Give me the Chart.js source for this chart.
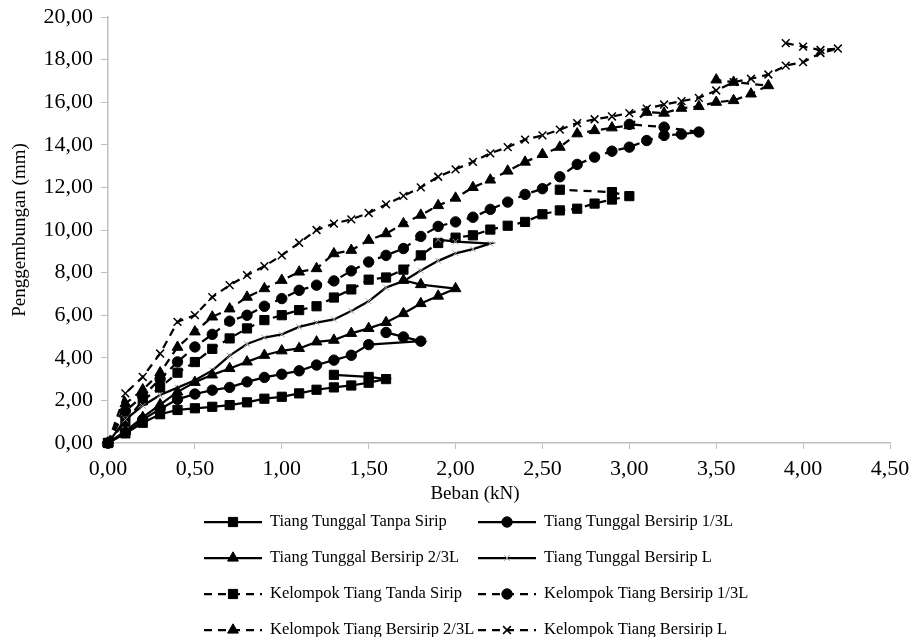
<!DOCTYPE html>
<html>
<head>
<meta charset="utf-8">
<script src="https://cdn.jsdelivr.net/npm/chart.js@4.4.1/dist/chart.umd.min.js"></script>
<style>
    html, body { margin: 0; padding: 0; background: #fff; }
    #wrap { width: 912px; height: 637px; position: relative; }
</style>
</head>
<body>
<div id="wrap"><canvas id="chart"></canvas></div>
<script>
(function () {
    var SERIES_NAMES = [
        "Tiang Tunggal Tanpa Sirip",
        "Tiang Tunggal Bersirip 1/3L",
        "Tiang Tunggal Bersirip 2/3L",
        "Tiang Tunggal Bersirip L",
        "Kelompok Tiang Tanda Sirip",
        "Kelompok Tiang Bersirip 1/3L",
        "Kelompok Tiang Bersirip 2/3L",
        "Kelompok Tiang Bersirip L"
    ];

    // beban (kN) / penggembungan (mm)
    var LOAD_TT_TANPA = [0, 0.1, 0.2, 0.3, 0.4, 0.5, 0.6, 0.7, 0.8, 0.9, 1.0, 1.1, 1.2, 1.3, 1.4, 1.5, 1.6, 1.5, 1.3];
    var DEFL_TT_TANPA = [0, 0.45, 0.95, 1.35, 1.55, 1.63, 1.70, 1.78, 1.91, 2.08, 2.17, 2.33, 2.50, 2.61, 2.70, 2.83, 3.00, 3.10, 3.20];

    var LOAD_TT_13L = [0, 0.1, 0.2, 0.3, 0.4, 0.5, 0.6, 0.7, 0.8, 0.9, 1.0, 1.1, 1.2, 1.3, 1.4, 1.5, 1.8, 1.7, 1.6];
    var DEFL_TT_13L = [0, 0.5, 1.1, 1.6, 2.05, 2.3, 2.48, 2.61, 2.87, 3.08, 3.23, 3.39, 3.66, 3.89, 4.12, 4.62, 4.78, 4.98, 5.19];

    var LOAD_TT_23L = [0, 0.1, 0.2, 0.3, 0.4, 0.5, 0.6, 0.7, 0.8, 0.9, 1.0, 1.1, 1.2, 1.3, 1.4, 1.5, 1.6, 1.7, 1.8, 1.9, 2.0, 1.8, 1.7];
    var DEFL_TT_23L = [0, 0.55, 1.2, 1.8, 2.4, 2.85, 3.2, 3.5, 3.81, 4.12, 4.33, 4.44, 4.75, 4.83, 5.15, 5.38, 5.66, 6.08, 6.55, 6.9, 7.25, 7.44, 7.64];

    var LOAD_TT_L = [0, 0.1, 0.2, 0.3, 0.4, 0.5, 0.6, 0.7, 0.8, 0.9, 1.0, 1.1, 1.2, 1.3, 1.4, 1.5, 1.6, 1.7, 1.8, 1.9, 2.0, 2.1, 2.2, 2.0, 1.9];
    var DEFL_TT_L = [0, 1.1, 1.75, 2.25, 2.6, 2.95, 3.4, 4.1, 4.65, 4.95, 5.1, 5.45, 5.65, 5.8, 6.2, 6.65, 7.3, 7.6, 8.1, 8.55, 8.9, 9.1, 9.36, 9.45, 9.55];

    var LOAD_KT_TANPA = [0, 0.1, 0.2, 0.3, 0.4, 0.5, 0.6, 0.7, 0.8, 0.9, 1.0, 1.1, 1.2, 1.3, 1.4, 1.5, 1.6, 1.7, 1.8, 1.9, 2.0, 2.1, 2.2, 2.3, 2.4, 2.5, 2.6, 2.7, 2.8, 2.9, 3.0, 2.9, 2.6];
    var DEFL_KT_TANPA = [0, 1.0, 2.0, 2.6, 3.3, 3.8, 4.42, 4.91, 5.38, 5.77, 6.0, 6.24, 6.42, 6.83, 7.21, 7.67, 7.77, 8.14, 8.81, 9.39, 9.64, 9.75, 10.02, 10.2, 10.38, 10.74, 10.92, 11.0, 11.24, 11.43, 11.59, 11.78, 11.89];

    var LOAD_KT_13L = [0, 0.1, 0.2, 0.3, 0.4, 0.5, 0.6, 0.7, 0.8, 0.9, 1.0, 1.1, 1.2, 1.3, 1.4, 1.5, 1.6, 1.7, 1.8, 1.9, 2.0, 2.1, 2.2, 2.3, 2.4, 2.5, 2.6, 2.7, 2.8, 2.9, 3.0, 3.1, 3.2, 3.3, 3.4, 3.2, 3.0];
    var DEFL_KT_13L = [0, 1.5, 2.2, 3.0, 3.81, 4.51, 5.1, 5.72, 6.0, 6.42, 6.78, 7.17, 7.41, 7.61, 8.08, 8.5, 8.81, 9.13, 9.7, 10.17, 10.38, 10.6, 10.97, 11.31, 11.67, 11.94, 12.5, 13.08, 13.42, 13.7, 13.89, 14.2, 14.44, 14.5, 14.6, 14.83, 14.96];

    var LOAD_KT_23L = [0, 0.1, 0.2, 0.3, 0.4, 0.5, 0.6, 0.7, 0.8, 0.9, 1.0, 1.1, 1.2, 1.3, 1.4, 1.5, 1.6, 1.7, 1.8, 1.9, 2.0, 2.1, 2.2, 2.3, 2.4, 2.5, 2.6, 2.7, 2.8, 2.9, 3.0, 3.1, 3.2, 3.3, 3.4, 3.5, 3.6, 3.7, 3.8, 3.6, 3.5];
    var DEFL_KT_23L = [0, 1.85, 2.5, 3.3, 4.5, 5.22, 5.92, 6.3, 6.85, 7.25, 7.64, 8.03, 8.19, 8.89, 9.05, 9.52, 9.83, 10.3, 10.7, 11.15, 11.5, 12.0, 12.35, 12.77, 13.19, 13.55, 13.89, 14.52, 14.67, 14.8, 14.9, 15.53, 15.49, 15.72, 15.8, 16.0, 16.08, 16.39, 16.78, 16.94, 17.05];

    var LOAD_KT_L = [0, 0.1, 0.2, 0.3, 0.4, 0.5, 0.6, 0.7, 0.8, 0.9, 1.0, 1.1, 1.2, 1.3, 1.4, 1.5, 1.6, 1.7, 1.8, 1.9, 2.0, 2.1, 2.2, 2.3, 2.4, 2.5, 2.6, 2.7, 2.8, 2.9, 3.0, 3.1, 3.2, 3.3, 3.4, 3.5, 3.6, 3.7, 3.8, 3.9, 4.0, 4.1, 4.2, 4.1, 4.0, 3.9];
    var DEFL_KT_L = [0, 2.33, 3.1, 4.2, 5.69, 6.0, 6.85, 7.41, 7.88, 8.3, 8.81, 9.4, 10.0, 10.3, 10.5, 10.8, 11.2, 11.6, 12.0, 12.5, 12.85, 13.2, 13.6, 13.89, 14.24, 14.44, 14.71, 15.02, 15.2, 15.33, 15.49, 15.7, 15.89, 16.05, 16.2, 16.55, 16.94, 17.1, 17.3, 17.72, 17.88, 18.31, 18.52, 18.45, 18.61, 18.77];

    var X_MIN = 0, X_MAX = 4.5, X_STEP = 0.5;
    var Y_MIN = 0, Y_MAX = 20, Y_STEP = 2;
    var X_TITLE = "Beban (kN)";
    var Y_TITLE = "Penggembungan (mm)";

    var LOADS = [LOAD_TT_TANPA, LOAD_TT_13L, LOAD_TT_23L, LOAD_TT_L, LOAD_KT_TANPA, LOAD_KT_13L, LOAD_KT_23L, LOAD_KT_L];
    var DEFLS = [DEFL_TT_TANPA, DEFL_TT_13L, DEFL_TT_23L, DEFL_TT_L, DEFL_KT_TANPA, DEFL_KT_13L, DEFL_KT_23L, DEFL_KT_L];

    var FONT = "'Liberation Serif', 'Times New Roman', serif";
    var AXIS_GREY = "#bfbfbf";
    var DASH = [8, 6];

    var STYLES = [
        { marker: "rect", r: 6.5, color: "#000", width: 1, dash: [] },
        { marker: "circle", r: 5.2, color: "#000", width: 1, dash: [] },
        { marker: "triangle", r: 6.2, color: "#000", width: 1, dash: [] },
        { marker: "crossRot", r: 4, color: "#9a9a9a", width: 1, dash: [] },
        { marker: "rect", r: 6.5, color: "#000", width: 1, dash: DASH },
        { marker: "circle", r: 5.2, color: "#000", width: 1, dash: DASH },
        { marker: "triangle", r: 6.2, color: "#000", width: 1, dash: DASH },
        { marker: "crossRot", r: 5.5, color: "#000", width: 1.5, dash: DASH }
    ];

    function fmt(v) {
        return Number(v).toFixed(2).replace(".", ",");
    }

    function datasets() {
        return SERIES_NAMES.map(function (name, i) {
            var st = STYLES[i];
            return {
                label: name,
                data: LOADS[i].map(function (x, k) { return { x: x, y: DEFLS[i][k] }; }),
                showLine: true,
                borderColor: "#000",
                borderWidth: 2.25,
                borderDash: st.dash,
                pointStyle: st.marker,
                pointRadius: st.r,
                pointBackgroundColor: st.color,
                pointBorderColor: st.color,
                pointBorderWidth: st.width,
                tension: 0,
                clip: false
            };
        });
    }

    var LEGEND_X = [204, 478];
    var LEGEND_Y = 522;
    var LEGEND_STEP = 36;
    var SAMPLE_LEN = 58;

    // two-column legend under the plot plus the x title, Excel style
    var legendPlugin = {
        id: "twoColumnLegend",
        afterDraw: function (chart) {
            var ctx = chart.ctx;
            ctx.save();
            ctx.fillStyle = "#000";
            ctx.font = "19px " + FONT;
            ctx.textAlign = "center";
            ctx.textBaseline = "middle";
            ctx.fillText(X_TITLE, 475, 494);
            ctx.restore();

            chart.data.datasets.forEach(function (ds, i) {
                var x = LEGEND_X[i % 2];
                var y = LEGEND_Y + Math.floor(i / 2) * LEGEND_STEP;
                ctx.save();
                ctx.strokeStyle = "#000";
                ctx.lineWidth = ds.borderWidth;
                ctx.setLineDash(ds.borderDash || []);
                ctx.beginPath();
                ctx.moveTo(x, y);
                ctx.lineTo(x + SAMPLE_LEN, y);
                ctx.stroke();
                ctx.setLineDash([]);
                ctx.fillStyle = ds.pointBackgroundColor;
                ctx.strokeStyle = ds.pointBorderColor;
                ctx.lineWidth = ds.pointBorderWidth;
                Chart.helpers.drawPoint(ctx, {
                    pointStyle: ds.pointStyle,
                    radius: ds.pointRadius,
                    borderWidth: ds.pointBorderWidth,
                    rotation: 0
                }, x + SAMPLE_LEN / 2, y);
                ctx.fillStyle = "#000";
                ctx.font = "16.5px " + FONT;
                ctx.textBaseline = "middle";
                ctx.textAlign = "left";
                ctx.fillText(ds.label, x + SAMPLE_LEN + 8, y);
                ctx.restore();
            });
        }
    };

    new Chart(document.getElementById("chart").getContext("2d"), {
        type: "scatter",
        data: { datasets: datasets() },
        plugins: [legendPlugin],
        options: {
            responsive: true,
            maintainAspectRatio: false,
            animation: false,
            layout: { padding: { left: 0, right: 22, top: 17, bottom: 129 } },
            plugins: {
                legend: { display: false },
                tooltip: { enabled: false }
            },
            scales: {
                x: {
                    type: "linear",
                    min: X_MIN,
                    max: X_MAX,
                    ticks: {
                        stepSize: X_STEP,
                        callback: fmt,
                        color: "#000",
                        font: { family: FONT, size: 22 },
                        padding: 7,
                        maxRotation: 0,
                        autoSkip: false
                    },
                    grid: { display: true, drawOnChartArea: false, drawTicks: true, tickLength: 6, color: AXIS_GREY },
                    border: { display: true, color: AXIS_GREY, width: 1.5 },
                    afterFit: function (scale) {
                        scale.height = 65;
                        scale.paddingLeft = 0;
                        scale.paddingRight = 0;
                    }
                },
                y: {
                    type: "linear",
                    min: Y_MIN,
                    max: Y_MAX,
                    ticks: {
                        stepSize: Y_STEP,
                        callback: fmt,
                        color: "#000",
                        font: { family: FONT, size: 22 },
                        padding: 8
                    },
                    grid: { display: true, drawOnChartArea: false, drawTicks: true, tickLength: 7, color: AXIS_GREY },
                    border: { display: true, color: AXIS_GREY, width: 1.5 },
                    title: {
                        display: true,
                        text: Y_TITLE,
                        color: "#000",
                        font: { family: FONT, size: 19 },
                        padding: { top: 9, bottom: 0 }
                    },
                    afterFit: function (scale) {
                        scale.width = 108;
                        scale.paddingTop = 0;
                        scale.paddingBottom = 0;
                    }
                }
            }
        }
    });
})();
</script>
</body>
</html>
